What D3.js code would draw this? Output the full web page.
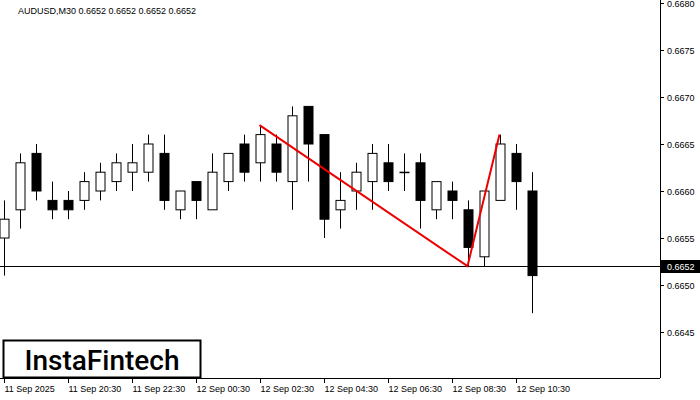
<!DOCTYPE html>
<html><head><meta charset="utf-8">
<script src="https://cdn.jsdelivr.net/npm/d3@7"></script>
<style>body{margin:0;background:#fff}svg{display:block;font-family:"Liberation Sans",Arial,sans-serif}</style>
</head><body><svg id="c" width="700" height="400"></svg>
<script>
const open_ =[0.6655,0.6658,0.6664,0.6659,0.6659,0.6659,0.6660,0.6661,0.6662,0.6662,0.6664,0.6658,0.6661,0.6658,0.6661,0.6665,0.6663,0.6665,0.6661,0.6669,0.6666,0.6658,0.6660,0.6661,0.6663,0.6662,0.6663,0.6658,0.6660,0.6658,0.6653,0.6659,0.6664,0.6660];
const high  =[0.6659,0.6664,0.6665,0.6661,0.6660,0.6662,0.6663,0.6664,0.6665,0.6666,0.6666,0.6660,0.6661,0.6664,0.6664,0.6666,0.6667,0.6666,0.6669,0.6669,0.6666,0.6662,0.6663,0.6665,0.6665,0.6664,0.6664,0.6661,0.6661,0.6659,0.6660,0.6666,0.6665,0.6662];
const low   =[0.6651,0.6656,0.6659,0.6657,0.6657,0.6658,0.6659,0.6660,0.6660,0.6661,0.6658,0.6657,0.6657,0.6658,0.6660,0.6661,0.6661,0.6661,0.6658,0.6661,0.6655,0.6656,0.6658,0.6658,0.6660,0.6660,0.6656,0.6657,0.6657,0.6652,0.6652,0.6659,0.6658,0.6647];
const close_=[0.6657,0.6663,0.6660,0.6658,0.6658,0.6661,0.6662,0.6663,0.6663,0.6665,0.6659,0.6660,0.6659,0.6662,0.6664,0.6662,0.6666,0.6662,0.6668,0.6665,0.6657,0.6659,0.6662,0.6664,0.6661,0.6662,0.6659,0.6661,0.6659,0.6654,0.6660,0.6665,0.6661,0.6651];
const priceTicks=[0.6645,0.6650,0.6655,0.6660,0.6665,0.6670,0.6675,0.6680];
const timeLabels=["11 Sep 2025","11 Sep 20:30","11 Sep 22:30","12 Sep 00:30","12 Sep 02:30","12 Sep 04:30","12 Sep 06:30","12 Sep 08:30","12 Sep 10:30"];
const patternIdx=[16,29,31];
const patternPrice=[0.6667,0.6652,0.6666];
const lastPrice=0.6652;

const svg=d3.select("#c");
const y=d3.scaleLinear().domain([0.6660,0.6665]).range([191,144]);
const x=d3.scaleLinear().domain([0,1]).range([3.5,19.5]);
const R=660,B=378;
svg.append("line").attr("x1",R+0.5).attr("x2",R+0.5).attr("y1",0).attr("y2",B).attr("stroke","#000");
svg.append("line").attr("x1",0).attr("x2",R).attr("y1",B+0.5).attr("y2",B+0.5).attr("stroke","#000");
priceTicks.forEach(p=>{
  const yy=Math.round(y(p))+0.5;
  svg.append("line").attr("x1",R).attr("x2",R+4).attr("y1",yy).attr("y2",yy).attr("stroke","#000");
  svg.append("text").attr("x",667).attr("y",yy+3.5).attr("font-size",9).text(p.toFixed(4));
});
timeLabels.forEach((t,i)=>{
  const xx=Math.round(x(i*4))+0.5;
  svg.append("line").attr("x1",xx).attr("x2",xx).attr("y1",B).attr("y2",B+5).attr("stroke","#000");
  svg.append("text").attr("x",xx).attr("y",392).attr("font-size",9).text(t);
});
svg.append("line").attr("x1",0).attr("x2",R).attr("y1",Math.round(y(lastPrice))+0.5).attr("y2",Math.round(y(lastPrice))+0.5).attr("stroke","#000");
open_.forEach((o,i)=>{
  const c=close_[i], xx=Math.round(x(i))+0.5;
  svg.append("line").attr("x1",xx).attr("x2",xx).attr("y1",y(high[i])).attr("y2",y(low[i])).attr("stroke","#000");
  const top=y(Math.max(o,c)), bot=y(Math.min(o,c));
  svg.append("rect").attr("x",xx-4.5).attr("width",9).attr("y",top).attr("height",Math.max(bot-top,0.5))
    .attr("fill",c<o?"#000":"#fff").attr("stroke","#000");
});
svg.append("path").attr("d",d3.line().x(d=>x(d[0])).y(d=>y(d[1]))(patternIdx.map((k,j)=>[k,patternPrice[j]])))
  .attr("fill","none").attr("stroke","#e00").attr("stroke-width",2);
const ly=Math.round(y(lastPrice));
svg.append("rect").attr("x",R+1).attr("y",ly-6).attr("width",39).attr("height",13).attr("fill","#000");
svg.append("text").attr("x",667).attr("y",ly+4).attr("font-size",9).attr("fill","#fff").text(lastPrice.toFixed(4));
svg.append("text").attr("x",18).attr("y",14).attr("font-size",9).text("AUDUSD,M30  0.6652 0.6652 0.6652 0.6652");
svg.append("rect").attr("x",3.5).attr("y",340.5).attr("width",197).attr("height",37).attr("fill","#fff").attr("stroke","#000").attr("stroke-width",2);
svg.append("text").attr("x",102).attr("y",370).attr("text-anchor","middle").attr("font-size",28).attr("font-weight",500).attr("font-family","Roboto, sans-serif").text("InstaFintech");
</script></body></html>
